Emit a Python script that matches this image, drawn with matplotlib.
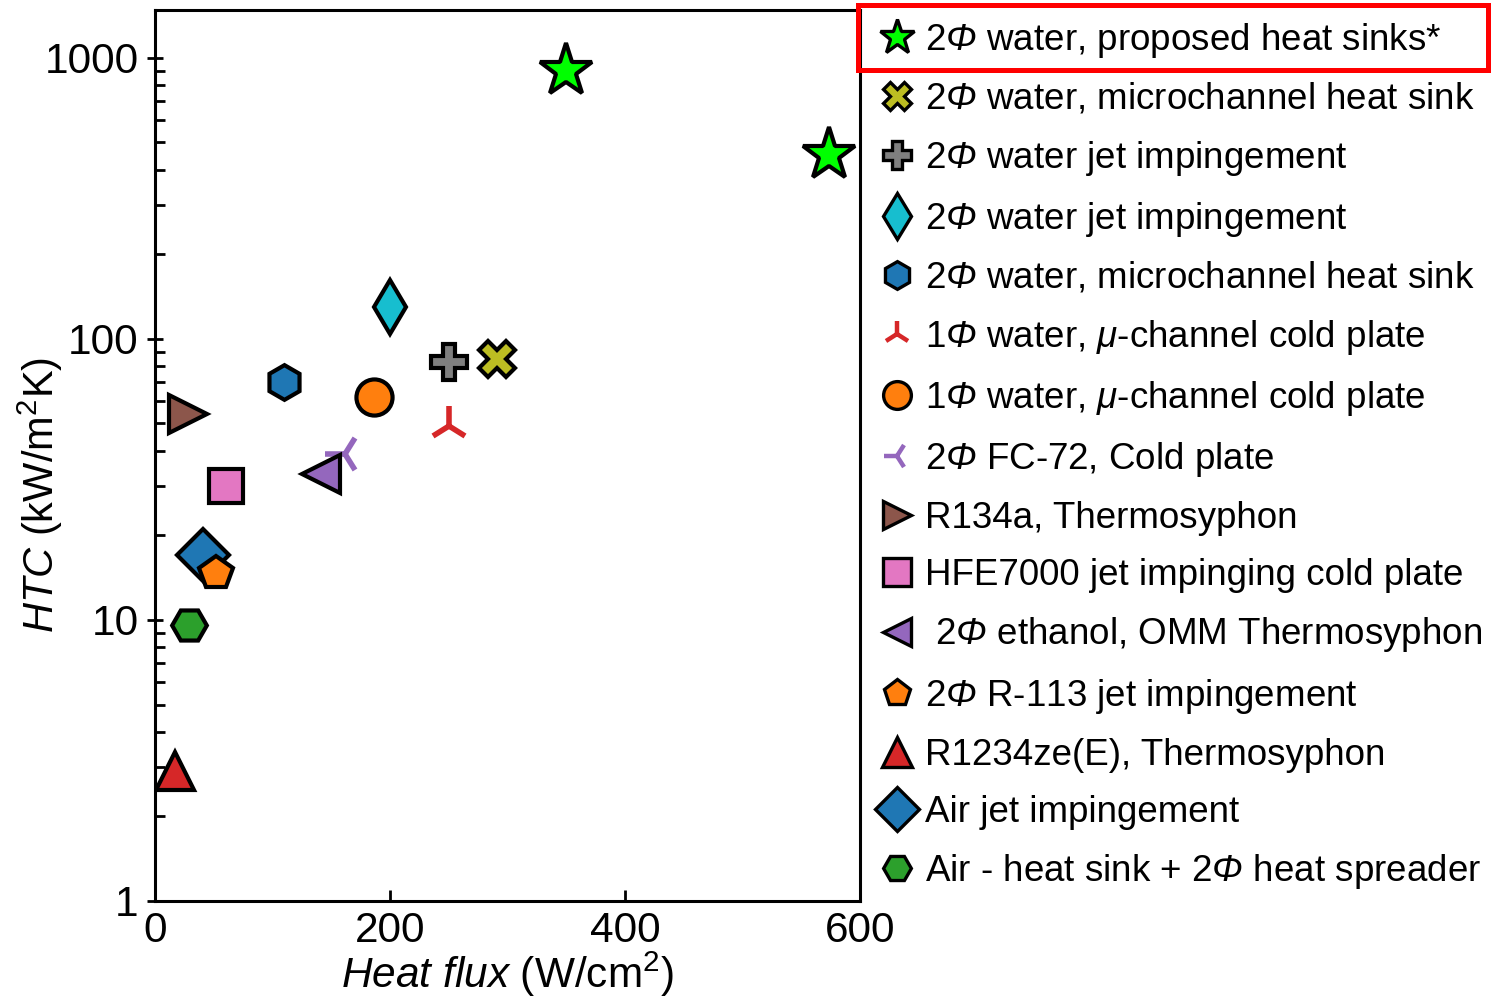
import matplotlib
matplotlib.use('Agg')
import matplotlib.pyplot as plt
from matplotlib.lines import Line2D
from matplotlib.patches import Rectangle
from matplotlib.ticker import NullFormatter

plt.rcParams['font.family'] = ['Liberation Sans', 'DejaVu Sans']
plt.rcParams['mathtext.fontset'] = 'custom'
plt.rcParams['mathtext.rm'] = 'Liberation Sans'
plt.rcParams['mathtext.it'] = 'Liberation Sans:italic'
# \mathsf используется для наклонных заглавных греческих букв
plt.rcParams['mathtext.sf'] = 'Liberation Sans:italic'

# Данные: тепловой поток (W/cm2) и коэффициент теплоотдачи (kW/m2K)
labels = [
    r'2$\mathsf{\Phi}$ water, proposed heat sinks*',
    r'2$\mathsf{\Phi}$ water, microchannel heat sink',
    r'2$\mathsf{\Phi}$ water jet impingement',
    r'2$\mathsf{\Phi}$ water jet impingement',
    r'2$\mathsf{\Phi}$ water, microchannel heat sink',
    r'1$\mathsf{\Phi}$ water, $\mathit{\mu}$-channel cold plate',
    r'1$\mathsf{\Phi}$ water, $\mathit{\mu}$-channel cold plate',
    r'2$\mathsf{\Phi}$ FC-72, Cold plate',
    'R134a, Thermosyphon',
    'HFE7000 jet impinging cold plate',
    r' 2$\mathsf{\Phi}$ ethanol, OMM Thermosyphon',
    r'2$\mathsf{\Phi}$ R-113 jet impingement',
    'R1234ze(E), Thermosyphon',
    'Air jet impingement',
    r'Air - heat sink + 2$\mathsf{\Phi}$ heat spreader',
]
heat_flux = [[350, 573], [291], [250], [200], [110], [250], [186], [162],
             [28], [60], [141], [52], [17], [41], [29]]
htc = [[900, 450], [85], [83], [130], [70], [49], [62], [39],
       [54], [30], [33], [14.7], [2.9], [17], [9.6]]

markers = ['*', 'X', 'P', 'd', 'h', '2', 'o', '3', '>', 's', '<', 'p', '^', 'D', 'H']
colors = ['#00ff00', '#bcbd22', '#7f7f7f', '#17becf', '#1f77b4', '#d62728',
          '#ff7f0e', '#9467bd', '#8c564b', '#e377c2', '#9467bd', '#ff7f0e',
          '#d62728', '#1f77b4', '#2ca02c']
sizes = [40, 26, 26, 27, 25, 29, 26, 29, 27, 25, 27, 25, 28, 26, 25]
leg_sizes = [26, 20, 20, 23, 20, 19, 20, 19, 20, 20, 20, 20, 21, 22, 20]
line_markers = ['2', '3']

fig = plt.figure(figsize=(14.91, 9.97), dpi=100)
ax = fig.add_axes([0.104, 0.0963, 0.473, 0.8937])

handles = []
for i in range(len(labels)):
    if markers[i] in line_markers:
        style = dict(color=colors[i], markeredgewidth=4)
    else:
        style = dict(markerfacecolor=colors[i], markeredgecolor='black',
                     markeredgewidth=3)
    z = 4 if markers[i] == 'p' else 3
    ax.plot(heat_flux[i], htc[i], linestyle='none', marker=markers[i],
            markersize=sizes[i], zorder=z, **style)
    lw = 3.2 if markers[i] in line_markers else 2.4
    style['markeredgewidth'] = lw
    handles.append(Line2D([], [], linestyle='none', marker=markers[i],
                          markersize=leg_sizes[i], **style))

ax.set_xlim(0, 600)
ax.set_yscale('log')
ax.set_ylim(1, 1480)
ax.set_xticks([0, 200, 400, 600])
ax.set_yticks([1, 10, 100, 1000])
ax.set_yticklabels(['1', '10', '100', '1000'])
ax.yaxis.set_minor_formatter(NullFormatter())

ax.tick_params(axis='both', labelsize=30.5, width=2, colors='black')
ax.tick_params(axis='x', which='major', direction='in', length=8, pad=7)
ax.tick_params(axis='y', which='major', direction='inout', length=12, pad=6)
ax.tick_params(axis='y', which='minor', direction='in', length=7, width=2)
for sp in ax.spines.values():
    sp.set_linewidth(2.2)

ax.set_xlabel(r'$\mathit{Heat\ flux}$ (W/cm$^2$)', fontsize=30.5, labelpad=-1)
ax.set_ylabel(r'$\mathit{HTC}$ (kW/m$^2$K)', fontsize=30)
ax.yaxis.set_label_coords(-0.128, 0.456)

leg = fig.legend(handles, labels, loc='upper left',
                 bbox_to_anchor=(0.5869, 0.983), frameon=False, fontsize=26.5,
                 handlelength=1.0, handletextpad=0.27, labelspacing=0.6,
                 borderpad=0.1, borderaxespad=0)

# Рамка вокруг первой записи легенды
fig.patches.append(Rectangle((0.5755, 0.9298), 0.4225, 0.0652,
                             transform=fig.transFigure, fill=False,
                             edgecolor='red', linewidth=3.6))

plt.savefig('out.png', dpi=100)
